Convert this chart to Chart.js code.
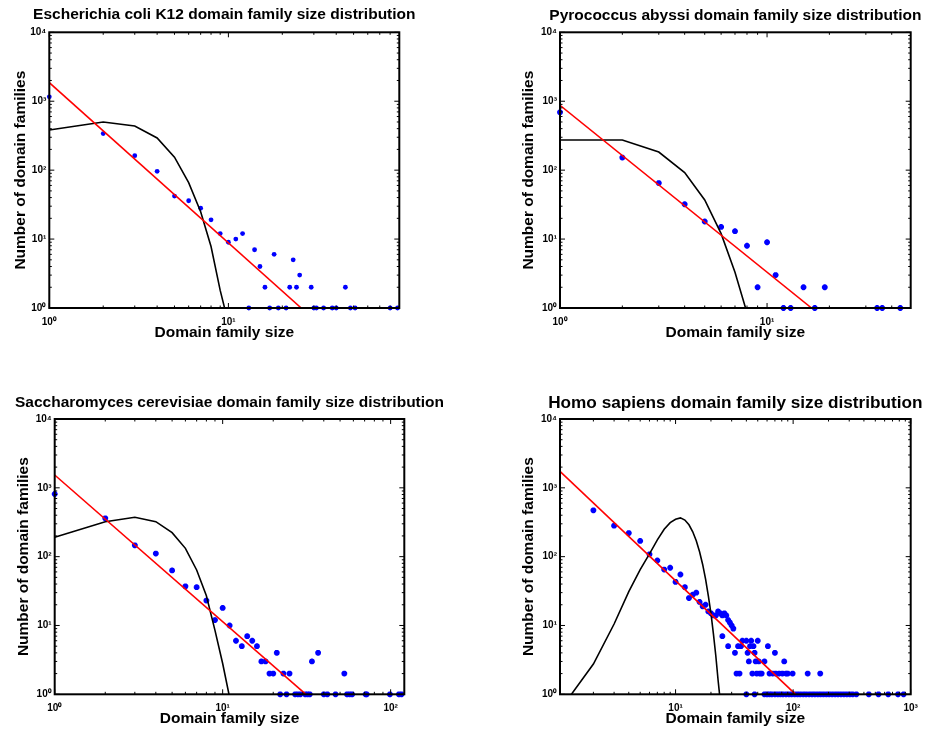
<!DOCTYPE html>
<html>
<head>
<meta charset="utf-8">
<title>Domain family size distributions</title>
<script src="https://cdn.jsdelivr.net/npm/chart.js@4.4.1/dist/chart.umd.min.js"></script>
<style>
  body { margin: 0; background: #fff; }
  #wrap { position: relative; width: 926px; height: 732px; }
  #wrap canvas { position: absolute; }
</style>
</head>
<body>
<div id="wrap">
  <canvas id="ecoli" width="463" height="366" style="left:0;top:0"></canvas>
  <canvas id="pabyssi" width="463" height="366" style="left:463px;top:0"></canvas>
  <canvas id="yeast" width="463" height="366" style="left:0;top:366px"></canvas>
  <canvas id="human" width="463" height="366" style="left:463px;top:366px"></canvas>
</div>
<script>
// ---- data: family size (x) vs number of families (y) ----

// Escherichia coli K12
const ecoliSize  = [1,2,3,4,5,6,7,8,9,10,11,12,13,14,15,16,17,18,19,21,22,23,24,25,29,30,31,34,38,40,45,48,51,80,88];
const ecoliCount = [1160,339,162,96,42,36,28,19,12,9,10,12,1,7,4,2,1,6,1,1,2,5,2,3,2,1,1,1,1,1,2,1,1,1,1];
const ecoliModelSize  = [1,2,3,4,5,6,7,8,9,10];
const ecoliModelCount = [383,500,437,293,154,66,25,7.8,1.8,0.6];
const ecoliFitSize  = [1, 25.5];
const ecoliFitCount = [1862, 1];

// Pyrococcus abyssi
const pabSize  = [1,2,3,4,5,6,7,8,9,10,11,12,13,15,17,19,34,36,44];
const pabCount = [690,152,65,32,18,15,13,8,2,9,3,1,1,2,1,2,1,1,1];
const pabModelSize  = [1,2,3,4,5,6,7,8];
const pabModelCount = [274,274,183,92,37,12,3.3,0.85];
const pabFitSize  = [1, 16.4];
const pabFitCount = [873, 1];

// Saccharomyces cerevisiae
const yeastSize  = [1,2,3,4,5,6,7,8,9,10,11,12,13,14,15,16,17,18,19,20,21,22,23,24,25,
                    27,28,29,31,32,33,34,37,40,42,47,53,55,57,59,71,72,99,112,116];
const yeastCount = [813,360,146,111,63,37,36,23,12,18,10,6,5,7,6,5,3,3,2,2,4,1,2,1,2,
                    1,1,1,1,1,1,3,4,1,1,1,2,1,1,1,1,1,1,1,1];
const yeastModelSize  = [1,2,3,4,5,6,7,8,9,10,11,12];
const yeastModelCount = [191,322,373,322,223,132,64,27,8.5,2.8,0.9,0.2];
const yeastFitSize  = [1, 31.3];
const yeastFitCount = [1536, 1];

// Homo sapiens
const humanSize  = [2,3,4,5,6,7,8,9,10,11,12,13,14,15,16,17,18,19,20,21,22,23,24,25,26,27,28,29,30,31,
                    25,28,32,34,36,37,40,41,43,44,46,47,50,61,70,
                    42,48,51,57,84,
                    33,35,45,49,52,54,63,67,71,76,81,87,90,99,133,170,
                    40,47,57,60,63,66,70,74,78,82,87,92,97,103,109,115,122,129,137,145,153,162,171,181,
                    192,203,215,228,241,255,270,286,303,321,345,440,532,644,780,870];
const humanCount = [471,282,220,169,108,88,65,69,43,55,36,25,28,30,22,19,20,16,15,14,14,16,15,14,15,14,12,11,10,9,
                    7,5,4,5,5,6,6,4,5,6,5,4,6,5,4,
                    3,3,3,3,3,
                    2,2,2,2,2,2,2,2,2,2,2,2,2,2,2,2,
                    1,1,1,1,1,1,1,1,1,1,1,1,1,1,1,1,1,1,1,1,1,1,1,1,
                    1,1,1,1,1,1,1,1,1,1,1,1,1,1,1,1];
const humanModelSize  = [1,2,3,4,5,6,7,8,9,10,11,12,13,14,15,16,17,18,19,20,21,22,23,24];
const humanModelCount = [0.54,2.75,10.5,31,65,110,175,250,312,350,366,340,290,230,170,118,77,47,27,15,7.5,3.6,1.6,0.8];
const humanFitSize  = [1, 105];
const humanFitCount = [1850, 1];

// axis ticks
const yTicks = [1, 10, 100, 1000, 10000];
const ecoliXTicks = [1, 10];
const pabXTicks   = [1, 10];
const yeastXTicks = [1, 10, 100];
const humanXTicks = [10, 100, 1000];

// ---- drawing ----
const FONT = "'Liberation Sans', Arial, Helvetica, sans-serif";
Chart.defaults.font.family = FONT;
Chart.defaults.color = '#000';

const SUP = { '0': '\u2070', '1': '\u00b9', '2': '\u00b2', '3': '\u00b3', '4': '\u2074' };
const powLabel = v => '10' + String(Math.round(Math.log10(v))).split('').map(d => SUP[d]).join('');

// box around the axes with inward log ticks on all four sides, plus the panel title
const frameTicks = {
  id: 'frameTicks',
  afterDatasetsDraw(chart, args, opts) {
    const { ctx, chartArea: a, scales: { x, y } } = chart;
    const marks = scale => {
      const out = [];
      const lo = Math.floor(Math.log10(scale.min)), hi = Math.ceil(Math.log10(scale.max));
      for (let e = lo; e <= hi; e++) {
        for (let m = 1; m <= 9; m++) {
          const v = m * Math.pow(10, e);
          if (v >= scale.min * 0.999 && v <= scale.max * 1.001) {
            out.push({ p: scale.getPixelForValue(v), len: m === 1 ? 5 : 2.5 });
          }
        }
      }
      return out;
    };
    ctx.save();
    ctx.strokeStyle = '#000';
    ctx.lineWidth = 1;
    ctx.beginPath();
    marks(x).forEach(t => {
      ctx.moveTo(t.p, a.bottom); ctx.lineTo(t.p, a.bottom - t.len);
      ctx.moveTo(t.p, a.top);    ctx.lineTo(t.p, a.top + t.len);
    });
    marks(y).forEach(t => {
      ctx.moveTo(a.left, t.p);  ctx.lineTo(a.left + t.len, t.p);
      ctx.moveTo(a.right, t.p); ctx.lineTo(a.right - t.len, t.p);
    });
    ctx.stroke();
    ctx.lineWidth = 2;
    ctx.strokeRect(a.left, a.top, a.right - a.left, a.bottom - a.top);

    ctx.fillStyle = '#000';
    ctx.font = 'bold ' + opts.size + 'px ' + FONT;
    ctx.textAlign = 'center';
    ctx.textBaseline = 'alphabetic';
    ctx.fillText(opts.text, (a.left + a.right) / 2, a.top - opts.gap);
    ctx.restore();
  }
};

function drawPanel(id, p) {
  const pts   = p.size.map((s, i) => ({ x: s, y: p.count[i] }));
  const model = p.modelSize.map((s, i) => ({ x: s, y: p.modelCount[i] }));
  const fit   = p.fitSize.map((s, i) => ({ x: s, y: p.fitCount[i] }));
  const star  = p.marker === 'star';
  const tickFont  = { size: 10, weight: 'bold' };
  const labelFont = { size: 15.5, weight: 'bold' };

  return new Chart(document.getElementById(id), {
    type: 'scatter',
    data: {
      datasets: [
        { data: fit, showLine: true, borderColor: '#ff0000', borderWidth: 1.6, pointRadius: 0 },
        { data: model, showLine: true, borderColor: '#000000', borderWidth: 1.6, pointRadius: 0 },
        {
          data: pts,
          pointStyle: p.marker,
          pointRadius: star ? 2.9 : 2.4,
          pointBorderWidth: star ? 2 : 0,
          pointBackgroundColor: '#0000ff',
          pointBorderColor: '#0000ff',
          clip: 8
        }
      ]
    },
    options: {
      responsive: false,
      animation: false,
      devicePixelRatio: 1,
      events: [],
      layout: { padding: p.pad },
      plugins: {
        legend: { display: false },
        tooltip: { enabled: false },
        frameTicks: { text: p.title, size: p.titleSize, gap: p.titleGap }
      },
      scales: {
        x: {
          type: 'logarithmic',
          min: p.xMin,
          max: p.xMax,
          afterBuildTicks: s => { s.ticks = p.xTicks.map(v => ({ value: v })); },
          afterFit: s => { s.height = 34; s.paddingLeft = 0; s.paddingRight = 0; },
          ticks: { callback: v => powLabel(v), font: tickFont, color: '#000', padding: 8, maxRotation: 0, autoSkip: false },
          grid: { display: false, drawTicks: false },
          border: { display: false },
          title: { display: true, text: 'Domain family size', font: labelFont, color: '#000', padding: 0 }
        },
        y: {
          type: 'logarithmic',
          min: 1,
          max: 10000,
          afterBuildTicks: s => { s.ticks = yTicks.map(v => ({ value: v })); },
          afterFit: s => { s.width = p.yWidth; },
          ticks: { callback: v => powLabel(v), font: tickFont, color: '#000', padding: 3, autoSkip: false },
          grid: { display: false, drawTicks: false },
          border: { display: false },
          title: { display: true, text: 'Number of domain families', font: labelFont, color: '#000', padding: 0 }
        }
      }
    },
    plugins: [frameTicks]
  });
}

drawPanel('ecoli', {
  title: 'Escherichia coli K12 domain family size distribution', titleSize: 15.5, titleGap: 13.3,
  size: ecoliSize, count: ecoliCount,
  modelSize: ecoliModelSize, modelCount: ecoliModelCount,
  fitSize: ecoliFitSize, fitCount: ecoliFitCount,
  marker: 'circle', xMin: 1, xMax: 90, xTicks: ecoliXTicks,
  pad: { left: 11.4, right: 63.7, top: 32.3, bottom: 24 }, yWidth: 37.9
});

drawPanel('pabyssi', {
  title: 'Pyrococcus abyssi domain family size distribution', titleSize: 15.5, titleGap: 12.6,
  size: pabSize, count: pabCount,
  modelSize: pabModelSize, modelCount: pabModelCount,
  fitSize: pabFitSize, fitCount: pabFitCount,
  marker: 'star', xMin: 1, xMax: 49.4, xTicks: pabXTicks,
  pad: { left: 56.7, right: 15.3, top: 32.3, bottom: 24 }, yWidth: 40.3
});

drawPanel('yeast', {
  title: 'Saccharomyces cerevisiae domain family size distribution', titleSize: 15.5, titleGap: 12.3,
  size: yeastSize, count: yeastCount,
  modelSize: yeastModelSize, modelCount: yeastModelCount,
  fitSize: yeastFitSize, fitCount: yeastFitCount,
  marker: 'star', xMin: 1, xMax: 120.6, xTicks: yeastXTicks,
  pad: { left: 14.9, right: 58.7, top: 53, bottom: 3.7 }, yWidth: 39.8
});

drawPanel('human', {
  title: 'Homo sapiens domain family size distribution', titleSize: 17.2, titleGap: 10.7,
  size: humanSize, count: humanCount,
  modelSize: humanModelSize, modelCount: humanModelCount,
  fitSize: humanFitSize, fitCount: humanFitCount,
  marker: 'star', xMin: 1.04, xMax: 1000, xTicks: humanXTicks,
  pad: { left: 56.7, right: 15.3, top: 53, bottom: 3.7 }, yWidth: 40.3
});
</script>
</body>
</html>
